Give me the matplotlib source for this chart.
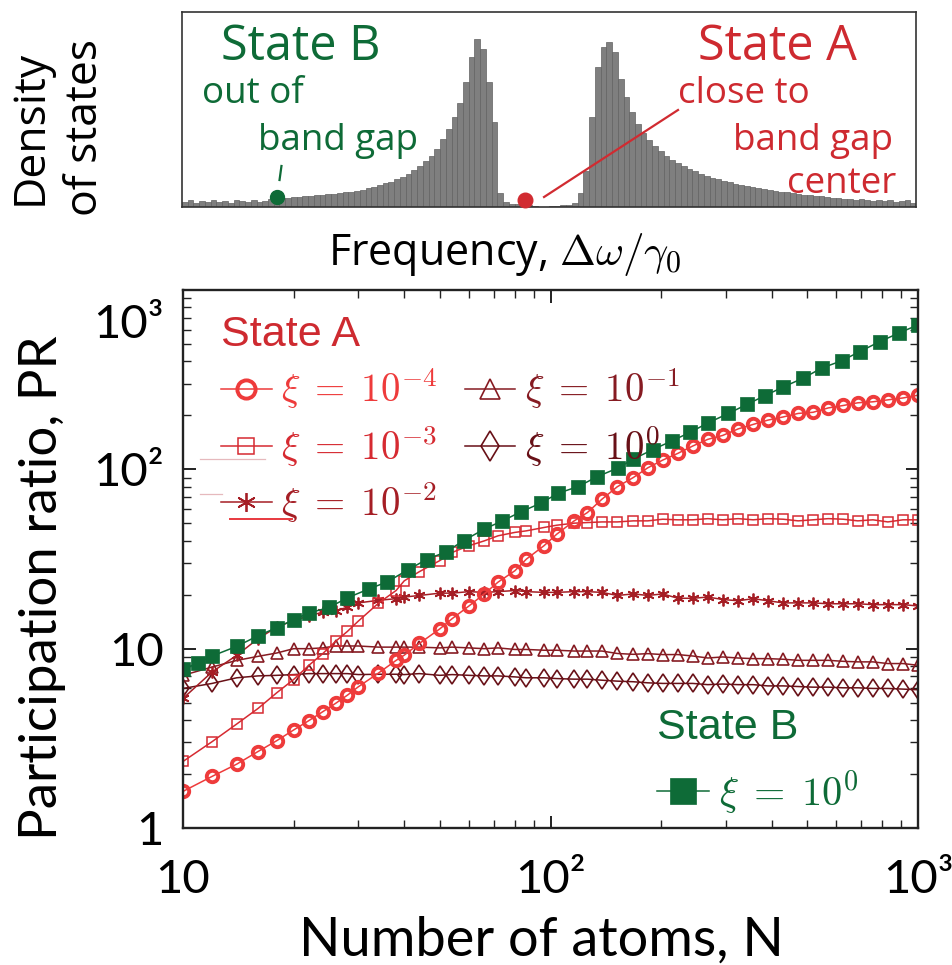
import numpy as np
import matplotlib
matplotlib.use("Agg")
import matplotlib.pyplot as plt
from matplotlib.lines import Line2D
from matplotlib.ticker import NullFormatter, LogLocator
from matplotlib.transforms import ScaledTranslation

plt.rcParams['mathtext.fontset'] = 'cm'

# ---------------- data ----------------
# density of states (histogram counts over the frequency window)
dos_counts = [5, 7, 4, 6, 5, 7, 5, 6, 4, 7, 6, 5, 7, 5, 6, 8, 6,
              9, 9.5, 10, 10.5, 11, 11.5, 12, 12.5, 13, 13.5, 14, 15, 15.5, 16.5,
              17.5, 19, 20.5, 22, 24, 25.5, 28, 30.5, 33, 37, 41, 46, 51, 58, 68, 78,
              90, 104, 125, 150, 168, 158, 125, 85, 14,
              5, 3, 3, 2, 2, 1, 0, 0, 1, 1, 2, 2.5, 4,
              14, 36, 90, 140, 160, 165, 155, 128, 110, 95, 83, 74,
              67, 61, 56, 51, 47.5, 44, 41, 38.5, 36, 33.5, 31.5, 29.5, 28, 26.5, 25,
              23.5, 22, 21, 20, 19, 18, 17, 16.5, 15.5, 15, 14, 13.5, 12.5, 12, 11.5,
              11, 10, 9.5, 9, 8.5, 8, 7.5, 8, 7, 6.5, 7, 6, 7, 5, 6, 7, 4]
freq_window = (-4.0, 4.0)
freq_state_B = -2.97
freq_state_A = -0.26
dos_at_B = 10.3
dos_at_A = 7.0

# participation ratio, state A
N_A = [10, 12, 14, 16, 18, 20, 22, 24, 26, 28, 30, 34, 38, 40, 44, 50, 54, 60, 66, 72,
       80, 86, 96, 104, 116, 126, 138, 152, 168, 184, 202, 222, 244, 268, 294, 324, 356,
       390, 430, 472, 518, 570, 626, 686, 754, 828, 910, 1000]
pr_A_xi_1e4 = [1.60, 1.94, 2.27, 2.67, 3.07, 3.52, 3.97, 4.45, 4.95, 5.50, 6.13, 7.3, 8.6,
               9.2, 10.7, 12.9, 14.7, 17.3, 20.2, 23.5, 27.2, 31.6, 37.5, 43.5, 51.6, 57.4,
               68.1, 80, 90, 102, 112.6, 122.7, 135, 147, 154.5, 168, 178, 188, 196, 205,
               208, 220, 227, 235, 238, 244, 250, 259]
pr_A_xi_1e3 = [2.35, 3.03, 3.80, 4.64, 5.68, 6.73, 8.07, 9.38, 10.98, 12.47, 14.25, 17.9,
               21.1, 23.9, 26.9, 31, 34.4, 37.5, 39.9, 42.6, 44.5, 45.4, 47.4, 48.8, 50.1,
               50.5, 50.9, 50.9, 51.6, 51.6, 52.7, 52.3, 52.3, 53.1, 52.3, 53.1, 52.3, 53.1,
               52.7, 51.6, 52.3, 53.1, 52.7, 51.6, 52.3, 50.9, 52.3, 52.3]
pr_A_xi_1e2 = [5.28, 7.42, 9.18, 11.36, 13.2, 14.36, 15.2, 16.0, 16.3, 17.0, 18.0, 18.6,
               19.0, 19.4, 19.8, 20.4, 20.4, 20.8, 20.6, 20.8, 21.1, 20.8, 20.6, 20.6, 20.8,
               20.8, 20.6, 19.8, 20.2, 19.8, 20.2, 19.1, 19.1, 19.4, 18.8, 18.5, 19.0, 18.5,
               18.0, 18.0, 18.0, 17.8, 17.8, 17.8, 17.6, 17.6, 17.6, 17.3]
pr_A_xi_1e1 = [7.1, 7.9, 8.6, 9.06, 9.46, 10.0, 10.0, 10.1, 10.35, 10.35, 10.35, 10.2, 10.2,
               10.2, 10.2, 10.1, 10.2, 10.1, 10.0, 10.1, 9.9, 9.9, 9.8, 9.8, 9.7, 9.7, 9.7,
               9.4, 9.3, 9.38, 9.27, 9.27, 9.1, 8.87, 8.99, 8.87, 8.80, 8.80, 8.73, 8.61,
               8.61, 8.61, 8.50, 8.44, 8.44, 8.26, 8.26, 8.08]
pr_A_xi_1e0 = [6.0, 6.4, 6.88, 7.05, 7.1, 7.17, 7.26, 7.26, 7.26, 7.26, 7.17, 7.2, 7.2,
               7.17, 7.26, 7.1, 7.17, 7.1, 7.05, 7.05, 6.96, 6.88, 6.88, 6.81, 6.76, 6.76,
               6.67, 6.59, 6.54, 6.45, 6.4, 6.4, 6.4, 6.3, 6.35, 6.3, 6.3, 6.2, 6.2, 6.15,
               6.1, 6.1, 6.05, 6.05, 6.0, 6.0, 5.95, 5.9]

# participation ratio, state B
N_B = [10, 11, 12, 14, 16, 18, 20, 22, 25, 28, 32, 36, 41, 46, 52, 58, 66, 74, 83, 94,
       105, 119, 134, 153, 168, 190, 214, 240, 269, 305, 342, 384, 430, 488, 547, 620,
       695, 788, 885, 1000]
pr_B_xi_1e0 = [7.7, 8.3, 9.1, 10.3, 11.8, 13.1, 14.5, 15.8, 17.0, 19.2, 21.5, 23.6, 27.6,
               31.4, 34.7, 40.0, 46.4, 51.6, 57.9, 64.7, 73.6, 80.2, 91.0, 102, 114, 129,
               144, 161, 182, 205, 230, 258, 288, 323, 367, 403, 454, 516, 574, 639]

x_ticks = [10, 100, 1000]
x_ticklabels = ['10', '10²', '10³']
y_ticks = [1, 10, 100, 1000]
y_ticklabels = ['1', '10', '10²', '10³']

# ---------------- style ----------------
GREEN = '#0E6B37'
RED_TXT = '#CE2A30'
C_1e4 = '#EE3B3B'
C_1e3 = '#D62A31'
C_1e2 = '#A51E25'
C_1e1 = '#861B22'
C_1e0 = '#681017'
SANS = 'Lato'
HUM = 'Open Sans'
TITLE = 'Liberation Sans'

W, H = 952, 965
fig = plt.figure(figsize=(W / 100, H / 100), dpi=100)


def fx(px):
    return px / W


def fy(py):
    return 1 - py / H


# ---------------- density of states panel ----------------
axh = fig.add_axes([fx(182), fy(207), fx(916) - fx(182), fy(12) - fy(207)])
edges = np.linspace(freq_window[0], freq_window[1], len(dos_counts) + 1)
centers = 0.5 * (edges[:-1] + edges[1:])
axh.bar(centers, dos_counts, width=edges[1] - edges[0], color='#7f7f7f',
        edgecolor='#626262', linewidth=0.5)
axh.set_xlim(*freq_window)
axh.set_ylim(0, 195)
axh.set_xticks([])
axh.set_yticks([])
for s in axh.spines.values():
    s.set_linewidth(1.2)
    s.set_color('#333333')

axh.plot([freq_state_B], [dos_at_B], 'o', ms=10, color=GREEN, clip_on=False, zorder=5)
axh.plot([freq_state_A], [dos_at_A], 'o', ms=10.5, color='#D12B31', clip_on=False, zorder=5)
axh.plot([-0.054, 1.406], [10, 97], color='#D12B31', lw=1.6)
axh.plot([-2.937, -2.916], [27, 41], color=GREEN, lw=1.6)

tk = dict(transform=axh.transAxes, ha='center', va='baseline', family=HUM)
axh.text(0.162, 0.754, 'State B', color=GREEN, fontsize=35, **tk)
axh.text(0.0967, 0.533, 'out of', color=GREEN, fontsize=26.5, **tk)
axh.text(0.2125, 0.292, 'band gap', color=GREEN, fontsize=26.5, **tk)
axh.text(0.8106, 0.754, 'State A', color=RED_TXT, fontsize=35, **tk)
axh.text(0.7657, 0.533, 'close to', color=RED_TXT, fontsize=26.5, **tk)
axh.text(0.8597, 0.292, 'band gap', color=RED_TXT, fontsize=26.5, **tk)
axh.text(0.899, 0.072, 'center', color=RED_TXT, fontsize=26.5, **tk)

axh.set_xlabel(r'Frequency, $\Delta\omega/\gamma_0$', fontsize=31, family=HUM)
axh.xaxis.label.set_va('center')
axh.xaxis.set_label_coords((505 - 182) / 734, (207 - 255) / 195)
axh.set_ylabel('Density\nof states', fontsize=32, family=HUM, linespacing=1.3)
axh.yaxis.label.set_va('center')
axh.yaxis.set_label_coords((58 - 182) / 734, (207 - 127) / 195)

# ---------------- participation ratio panel ----------------
ax = fig.add_axes([fx(183), fy(828), fx(918) - fx(183), fy(290) - fy(828)])
ax.set_xscale('log')
ax.set_yscale('log')

lw = 1.1
l0, = ax.plot(N_A, pr_A_xi_1e0, '-', marker='d', ms=9.5, mfc='none', mec=C_1e0, mew=1.2,
              color=C_1e0, lw=lw)
l1, = ax.plot(N_A, pr_A_xi_1e1, '-', marker='^', ms=9, mfc='none', mec=C_1e1, mew=1.2,
              color=C_1e1, lw=lw)
l2, = ax.plot(N_A, pr_A_xi_1e2, '-', marker=(6, 2, 0), ms=8.5, mec=C_1e2, mew=1.3,
              color=C_1e2, lw=lw)
l3, = ax.plot(N_A, pr_A_xi_1e3, '-', marker='s', ms=7.4, mfc='none', mec=C_1e3, mew=1.1,
              color=C_1e3, lw=lw)
l4, = ax.plot(N_A, pr_A_xi_1e4, '-', marker='o', ms=8.2, mfc='none', mec=C_1e4, mew=2.8,
              color=C_1e4, lw=lw)
lB, = ax.plot(N_B, pr_B_xi_1e0, '-', marker='s', ms=9.8, mfc=GREEN, mec=GREEN, mew=0.5,
              color=GREEN, lw=lw)

ax.set_xlim(10, 1000)
ax.set_ylim(1, 1000)
for s in ax.spines.values():
    s.set_linewidth(1.7)
    s.set_color('#222222')
ax.tick_params(which='both', direction='in', top=True, right=True, color='#222222')
ax.tick_params(which='major', length=9, width=1.4, pad=22)
ax.tick_params(which='minor', length=5.5, width=1.0)
ax.tick_params(axis='y', which='major', pad=14)
ax.xaxis.set_minor_locator(LogLocator(base=10, subs=np.arange(2, 10)))
ax.yaxis.set_minor_locator(LogLocator(base=10, subs=np.arange(2, 10)))
ax.xaxis.set_minor_formatter(NullFormatter())
ax.yaxis.set_minor_formatter(NullFormatter())
ax.set_xticks(x_ticks)
ax.set_xticklabels(x_ticklabels, family=SANS, fontsize=34)
ax.set_yticks(y_ticks)
ax.set_yticklabels(y_ticklabels, family=SANS, fontsize=34)
top_lbl = ax.get_yticklabels()[-1]
top_lbl.set_transform(top_lbl.get_transform() + ScaledTranslation(0, -0.31, fig.dpi_scale_trans))

ax.set_xlabel('Number of atoms, N', family=SANS, fontsize=39)
ax.xaxis.label.set_va('center')
ax.xaxis.set_label_coords((541 - 183) / 735, (828 - 940) / 538)
ax.set_ylabel('Participation ratio, PR', family=SANS, fontsize=38)
ax.yaxis.label.set_va('center')
ax.yaxis.set_label_coords((43 - 183) / 735, (828 - 588) / 538)

# legends
labels_A = [r'$\xi\;=\;10^{-4}$', r'$\xi\;=\;10^{-3}$', r'$\xi\;=\;10^{-2}$',
            r'$\xi\;=\;10^{-1}$', r'$\xi\;=\;10^{0}$']
colors_A = [C_1e4, C_1e3, C_1e2, C_1e1, C_1e0]
legA = ax.legend([l4, l3, l2, l1, l0], labels_A, ncol=2, loc='upper left',
                 bbox_to_anchor=(fx(221), fy(315)), bbox_transform=fig.transFigure,
                 frameon=False, title='State A',
                 title_fontproperties={'family': TITLE, 'size': 31},
                 prop={'size': 28}, markerscale=1.6, handlelength=1.3,
                 handletextpad=0.25, columnspacing=0.7, labelspacing=0.3,
                 borderpad=0, borderaxespad=0, alignment='left')
legA.get_title().set_color(RED_TXT)
for t, c in zip(legA.get_texts(), colors_A):
    t.set_color(c)
ax.add_artist(legA)

legB = ax.legend([lB], [r'$\xi\;=\;10^{0}$'], loc='upper left',
                 bbox_to_anchor=(fx(657), fy(708)), bbox_transform=fig.transFigure,
                 frameon=False, title='State B',
                 title_fontproperties={'family': TITLE, 'size': 31},
                 prop={'size': 29}, markerscale=1.9, handlelength=1.3,
                 handletextpad=0.25, borderpad=0, borderaxespad=0, alignment='left')
legB.get_title().set_color(GREEN)
legB.get_texts()[0].set_color(GREEN)

# thin rules left under the legend entries
fig.add_artist(Line2D([fx(200), fx(265)], [fy(459), fy(459)], color='#e6b9bd', lw=0.9))
fig.add_artist(Line2D([fx(200), fx(222)], [fy(494), fy(494)], color='#e6b9bd', lw=0.9))
fig.add_artist(Line2D([fx(230), fx(292)], [fy(519), fy(519)], color='#E8393F', lw=1.4))

fig.savefig('out.png', dpi=100)
